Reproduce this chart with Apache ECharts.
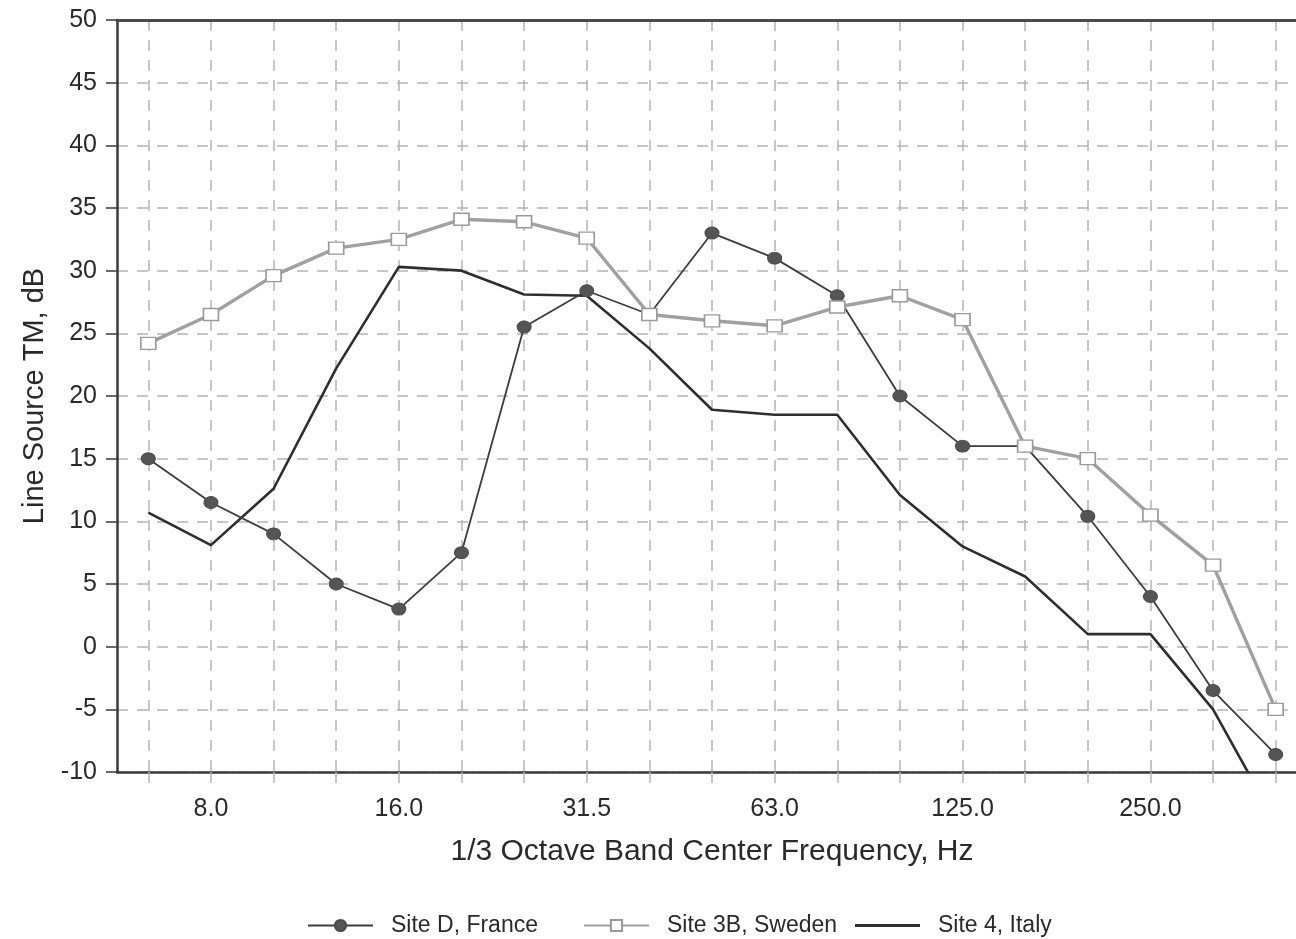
<!DOCTYPE html>
<html>
<head>
<meta charset="utf-8">
<script src="https://cdn.jsdelivr.net/npm/echarts@6/dist/echarts.min.js"></script>
<style>
  html, body { margin: 0; padding: 0; background: #fff; }
  #chart { width: 1296px; height: 939px; }
</style>
</head>
<body>
<div id="chart"></div>
<script>
// 1/3 octave band centre frequencies, Hz
const frequencies = ['6.3', '8.0', '10.0', '12.5', '16.0', '20.0', '25.0', '31.5', '40.0', '50.0',
  '63.0', '80.0', '100.0', '125.0', '160.0', '200.0', '250.0', '315.0', '400.0'];

// Line source transmission loss, dB
const siteDFrance = [15, 11.5, 9, 5, 3, 7.5, 25.5, 28.4, 26.5, 33, 31, 28, 20, 16, 16, 10.4, 4, -3.5, -8.6];
const site3BSweden = [24.2, 26.5, 29.6, 31.8, 32.5, 34.1, 33.9, 32.6, 26.5, 26, 25.6, 27.1, 28, 26.1, 16, 15, 10.5, 6.5, -5];
const site4Italy = [10.7, 8.1, 12.6, 22.2, 30.3, 30, 28.1, 28, 23.8, 18.9, 18.5, 18.5, 12.1, 8, 5.6, 1, 1, -5, -14];

// Axis ticks
const yMin = -10, yMax = 50, yStep = 5;

const FONT = '"Liberation Sans", Arial, Helvetica, sans-serif';
const TEXT = '#2a2a2a';
const gridDash = { color: '#b4b4b4', width: 1.5, type: [11, 9] };

function legendFor(name, left, icon) {
  const item = icon ? { name: name, icon: icon } : name;
  return {
    left: left,
    top: 909,
    itemWidth: 65,
    itemHeight: 14,
    symbolKeepAspect: true,
    textStyle: { fontFamily: FONT, fontSize: 23, color: TEXT, padding: [0, 0, 0, 13] },
    data: [item]
  };
}

const chart = echarts.init(document.getElementById('chart'), null, { renderer: 'canvas' });

chart.setOption({
  backgroundColor: '#ffffff',
  animation: false,
  grid: { left: 117, top: 20, right: -11, bottom: 167, outerBoundsMode: 'none' },
  legend: [
    legendFor('Site D, France', 302),
    legendFor('Site 3B, Sweden', 578),
    legendFor('Site 4, Italy', 850, 'path://M0,0L65,0L65,3L0,3Z')
  ],
  xAxis: [{
    type: 'category',
    data: frequencies,
    boundaryGap: true,
    name: '1/3 Octave Band Center Frequency, Hz',
    nameLocation: 'middle',
    nameGap: 65,
    nameTextStyle: { fontFamily: FONT, fontSize: 30, color: TEXT },
    axisLine: { show: true, onZero: false, lineStyle: { color: '#3a3a3a', width: 2.5 } },
    axisTick: { show: true, alignWithLabel: true, interval: 0, length: 13, lineStyle: gridDash },
    axisLabel: {
      interval: function (index) { return index % 3 === 1; },
      margin: 25,
      fontFamily: FONT, fontSize: 25, color: TEXT
    },
    splitLine: { show: true, alignWithLabel: true, interval: 0, lineStyle: gridDash }
  }, {
    type: 'category',
    data: frequencies,
    position: 'top',
    axisLine: { show: true, onZero: false, lineStyle: { color: '#4a4a4a', width: 3 } },
    axisTick: { show: false },
    axisLabel: { show: false },
    splitLine: { show: false }
  }],
  yAxis: {
    type: 'value',
    min: yMin,
    max: yMax,
    interval: yStep,
    name: 'Line Source TM, dB',
    nameLocation: 'middle',
    nameGap: 68,
    nameTextStyle: { fontFamily: FONT, fontSize: 29, color: TEXT },
    axisLine: { show: true, onZero: false, lineStyle: { color: '#3a3a3a', width: 2.5 } },
    axisTick: { show: true, inside: false, length: 11, lineStyle: { color: '#3a3a3a', width: 1.5 } },
    axisLabel: { margin: 20, fontFamily: FONT, fontSize: 25, color: TEXT },
    splitLine: { show: true, lineStyle: gridDash }
  },
  series: [{
    name: 'Site D, France',
    type: 'line',
    data: siteDFrance,
    z: 3,
    symbol: 'circle',
    symbolSize: [14, 12],
    itemStyle: { color: '#555555', borderColor: '#4a4a4a', borderWidth: 1 },
    lineStyle: { color: '#3c3c3c', width: 1.8 }
  }, {
    name: 'Site 3B, Sweden',
    type: 'line',
    data: site3BSweden,
    z: 4,
    symbol: 'rect',
    symbolSize: [15, 12],
    itemStyle: { color: '#ffffff', borderColor: '#9a9a9a', borderWidth: 1.5 },
    lineStyle: { color: '#a0a0a0', width: 3.4 }
  }, {
    name: 'Site 4, Italy',
    type: 'line',
    data: site4Italy,
    z: 2,
    clip: true,
    symbol: 'none',
    itemStyle: { color: '#2e2e2e' },
    lineStyle: { color: '#2e2e2e', width: 2.6 }
  }]
});
</script>
</body>
</html>
